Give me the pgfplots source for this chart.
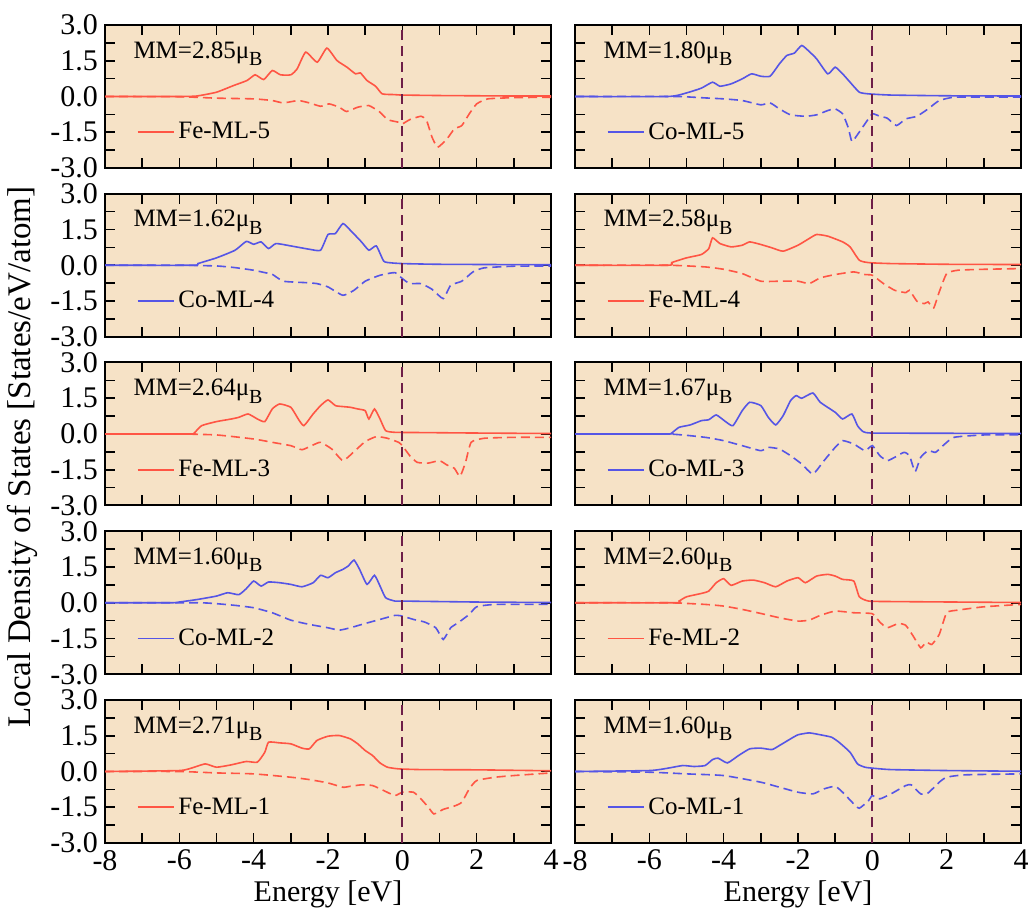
\documentclass[border=0pt]{standalone}
\usepackage{fontspec}
\setmainfont{Liberation Serif}
\usepackage{pgfplots}
\pgfplotsset{compat=1.18}
\definecolor{wheatbg}{HTML}{F6E2C6}
\definecolor{fered}{HTML}{FF5544}
\definecolor{coblue}{HTML}{5555E6}
\definecolor{fermi}{HTML}{6E1E48}
\newcommand\annfont{\fontsize{12.5}{14}\selectfont}
\newcommand\tickfont{\fontsize{15}{16}\selectfont}
% magnetic moment note in the upper left corner of a panel
\newcommand\mm[1]{\node[anchor=west,inner sep=0pt,font=\annfont] at (rel axis cs:0.063,0.80) {MM=#1μ\raisebox{-0.65ex}{\fontsize{10}{10}\selectfont B}};}

\pgfplotsset{
  panel/.style={
    width=223pt, height=71.5pt, scale only axis, anchor=north west,
    xmin=-8, xmax=4, ymin=-3, ymax=3,
    xtick={-8,-6,...,4}, minor xtick={-7,-5,...,3},
    ytick={-3,-1.5,0,1.5,3}, minor ytick={-2.25,-0.75,0.75,2.25},
    tick align=inside, major tick length=5pt, minor tick length=5pt,
    tick style={black, line width=0.8pt},
    axis line style={line width=1pt},
    axis background/.style={fill=wheatbg},
    ticklabel style={font=\tickfont},
    /pgf/number format/assume math mode=true,
    yticklabel style={/pgf/number format/.cd, fixed, fixed zerofill, precision=1},
    xticklabel style={/pgf/number format/.cd, fixed, precision=0},
    legend style={at={(rel axis cs:0.07,0.25)}, anchor=west, draw=none, fill=none,
      font=\annfont, inner sep=0pt},
    legend image code/.code={\draw[##1, line width=0.9pt] (0pt,0pt) -- (18pt,0pt);},
  },
  noy/.style={yticklabels={}},
  nox/.style={xticklabels={}},
  bottom/.style={xlabel={Energy [eV]}, xlabel style={font=\fontsize{15}{16}\selectfont, yshift=1.5pt}},
  up/.style={line width=0.8pt, smooth, tension=0.3},
  dn/.style={line width=0.8pt, smooth, tension=0.3, dash pattern=on 4.5pt off 2.5pt},
  ef/.style={fermi, line width=1pt, dash pattern=on 5pt off 3pt, forget plot},
}

\begin{document}
\begin{tikzpicture}
\useasboundingbox (0,0) rectangle (514pt,454.5pt);

% ---------- left column ----------
\begin{axis}[panel, nox, at={(52.5pt,442pt)}]
\addplot[up, fered] coordinates {(-8,0) (-6,0) (-5.53,0.02) (-5,0.18) (-4.54,0.46) (-4.18,0.67) (-3.96,0.91) (-3.73,0.71) (-3.5,1.09) (-3.28,0.91) (-3,0.91) (-2.83,1.16) (-2.6,1.86) (-2.29,1.44) (-2.03,2.03) (-1.76,1.51) (-1.49,1.23) (-1.26,0.95) (-1.13,0.99) (-0.95,0.67) (-0.72,0.43) (-0.54,0.11) (-0.22,0.08) (0,0.06) (1,0.04) (2,0.03) (3,0.02) (4,0.02)};
\addlegendentry{Fe-ML-5}
\addplot[dn, fered, forget plot] coordinates {(-8,0) (-6,-0.01) (-5,-0.07) (-4,-0.1) (-3.5,-0.17) (-3.2,-0.27) (-2.8,-0.17) (-2.5,-0.27) (-2.2,-0.41) (-1.97,-0.31) (-1.7,-0.45) (-1.5,-0.63) (-1.2,-0.45) (-0.9,-0.38) (-0.6,-0.66) (-0.4,-0.97) (-0.1,-1.08) (0,-1.15) (0.2,-0.97) (0.5,-0.83) (0.65,-1.0) (0.8,-1.71) (0.95,-2.13) (1.2,-1.78) (1.4,-1.36) (1.6,-1.22) (1.8,-0.73) (2.0,-0.31) (2.3,-0.1) (3,-0.05) (4,-0.03)};
\addplot[ef] coordinates {(0,-3) (0,3)};
\mm{2.85}
\end{axis}

\begin{axis}[panel, nox, at={(52.5pt,357.625pt)}]
\addplot[up, coblue] coordinates {(-8,0) (-5.62,0) (-5.5,0.07) (-5,0.31) (-4.5,0.63) (-4.2,1.0) (-4.0,0.88) (-3.8,0.98) (-3.6,0.7) (-3.4,0.91) (-3,0.81) (-2.5,0.67) (-2.2,0.63) (-2.0,1.29) (-1.8,1.33) (-1.6,1.75) (-1.4,1.47) (-1.1,0.98) (-0.9,0.63) (-0.7,0.81) (-0.5,0.17) (-0.3,0.1) (0,0.07) (1,0.04) (4,0.02)};
\addlegendentry{Co-ML-4}
\addplot[dn, coblue, forget plot] coordinates {(-8,0) (-6,0) (-5,-0.03) (-4.5,-0.1) (-4,-0.21) (-3.7,-0.31) (-3.5,-0.38) (-3.2,-0.67) (-2.6,-0.73) (-2.3,-0.77) (-2.0,-0.91) (-1.6,-1.26) (-1.3,-1.05) (-1.0,-0.67) (-0.6,-0.42) (-0.2,-0.31) (0,-0.56) (0.2,-0.77) (0.5,-0.77) (0.8,-1.01) (1.1,-1.4) (1.3,-0.84) (1.6,-0.67) (1.9,-0.28) (2.2,-0.11) (3,-0.04) (4,-0.03)};
\addplot[ef] coordinates {(0,-3) (0,3)};
\mm{1.62}
\end{axis}

\begin{axis}[panel, nox, at={(52.5pt,273.25pt)}]
\addplot[up, fered] coordinates {(-8,0) (-5.7,0) (-5.6,0.04) (-5.4,0.35) (-5,0.52) (-4.6,0.63) (-4.4,0.7) (-4.15,0.84) (-3.9,0.63) (-3.7,0.52) (-3.5,1.05) (-3.3,1.26) (-3,1.12) (-2.8,0.63) (-2.65,0.35) (-2.4,0.84) (-2.2,1.19) (-2,1.43) (-1.8,1.19) (-1.6,1.15) (-1.4,1.12) (-1.2,1.05) (-1.0,0.98) (-0.9,0.63) (-0.75,1.05) (-0.6,0.63) (-0.45,0.14) (-0.2,0.07) (0.5,0.06) (2,0.04) (4,0.02)};
\addlegendentry{Fe-ML-3}
\addplot[dn, fered, forget plot] coordinates {(-8,0) (-6,0) (-5,-0.04) (-4,-0.21) (-3.5,-0.35) (-3,-0.49) (-2.7,-0.66) (-2.4,-0.46) (-2.2,-0.35) (-1.9,-0.63) (-1.6,-1.12) (-1.3,-0.74) (-1.0,-0.32) (-0.7,-0.11) (-0.4,-0.18) (-0.1,-0.35) (0,-0.49) (0.2,-0.91) (0.4,-1.19) (0.7,-1.22) (1.0,-1.12) (1.2,-1.3) (1.4,-1.44) (1.55,-1.78) (1.7,-1.19) (1.85,-0.35) (2.2,-0.18) (3,-0.14) (4,-0.14)};
\addplot[ef] coordinates {(0,-3) (0,3)};
\mm{2.64}
\end{axis}

\begin{axis}[panel, nox, at={(52.5pt,188.875pt)}]
\addplot[up, coblue] coordinates {(-8,0) (-6.2,0) (-6,0.03) (-5.5,0.14) (-5,0.28) (-4.7,0.42) (-4.4,0.34) (-4.2,0.59) (-4,0.91) (-3.8,0.7) (-3.6,0.87) (-3.3,0.84) (-3,0.77) (-2.7,0.67) (-2.4,0.84) (-2.2,1.15) (-2,1.05) (-1.8,1.26) (-1.6,1.4) (-1.45,1.55) (-1.3,1.79) (-1.15,1.4) (-0.95,0.77) (-0.75,1.15) (-0.6,0.7) (-0.45,0.21) (-0.2,0.07) (0,0.07) (2,0.03) (4,0.01)};
\addlegendentry{Co-ML-2}
\addplot[dn, coblue, forget plot] coordinates {(-8,0) (-5.5,0) (-5,-0.04) (-4.5,-0.11) (-4,-0.21) (-3.5,-0.42) (-3,-0.73) (-2.5,-0.91) (-2,-1.05) (-1.7,-1.15) (-1.4,-1.05) (-1,-0.87) (-0.6,-0.7) (-0.2,-0.53) (0,-0.56) (0.3,-0.7) (0.6,-0.81) (0.9,-1.05) (1.1,-1.54) (1.3,-1.05) (1.5,-0.84) (1.8,-0.49) (2.0,-0.17) (2.5,-0.07) (4,-0.07)};
\addplot[ef] coordinates {(0,-3) (0,3)};
\mm{1.60}
\end{axis}

\begin{axis}[panel, bottom, at={(52.5pt,104.5pt)}]
\addplot[up, fered] coordinates {(-8,0) (-6,0.04) (-5.6,0.18) (-5.3,0.32) (-5,0.18) (-4.6,0.28) (-4.2,0.42) (-3.9,0.39) (-3.7,0.81) (-3.6,1.23) (-3.3,1.2) (-3,1.16) (-2.7,0.98) (-2.5,0.95) (-2.3,1.3) (-2,1.48) (-1.7,1.51) (-1.4,1.37) (-1.2,1.16) (-1,0.88) (-0.8,0.67) (-0.6,0.36) (-0.4,0.18) (-0.1,0.11) (0.5,0.08) (2,0.07) (3,0.05) (4,0.03)};
\addlegendentry{Fe-ML-1}
\addplot[dn, fered, forget plot] coordinates {(-8,0) (-6,0) (-5,-0.06) (-4,-0.1) (-3,-0.24) (-2.5,-0.34) (-2,-0.48) (-1.6,-0.66) (-1.4,-0.62) (-1.1,-0.56) (-0.8,-0.59) (-0.5,-0.8) (-0.2,-1.01) (0,-0.87) (0.3,-0.87) (0.5,-1.15) (0.7,-1.5) (0.85,-1.78) (1.1,-1.59) (1.4,-1.45) (1.6,-1.29) (1.8,-0.73) (2,-0.38) (2.5,-0.24) (3,-0.17) (4,-0.06)};
\addplot[ef] coordinates {(0,-3) (0,3)};
\mm{2.71}
\end{axis}

% ---------- right column ----------
\begin{axis}[panel, nox, noy, at={(287.5pt,442pt)}]
\addplot[up, coblue] coordinates {(-8,0) (-5.5,0) (-5,0.15) (-4.6,0.35) (-4.3,0.6) (-4.1,0.43) (-3.8,0.53) (-3.5,0.74) (-3.25,0.95) (-3,0.85) (-2.75,0.85) (-2.5,1.37) (-2.3,1.72) (-2.1,1.82) (-1.9,2.14) (-1.7,1.89) (-1.5,1.58) (-1.2,0.95) (-1.0,1.23) (-0.8,0.95) (-0.6,0.6) (-0.35,0.18) (-0.1,0.11) (0.5,0.06) (2,0.03) (4,0.02)};
\addlegendentry{Co-ML-5}
\addplot[dn, coblue, forget plot] coordinates {(-8,0) (-5.3,0) (-4.5,-0.06) (-4,-0.1) (-3.5,-0.17) (-3,-0.35) (-2.75,-0.27) (-2.5,-0.52) (-2.2,-0.77) (-1.8,-0.83) (-1.5,-0.77) (-1.2,-0.59) (-1.0,-0.52) (-0.8,-0.73) (-0.65,-1.3) (-0.55,-1.89) (-0.4,-1.6) (-0.2,-1.15) (0,-0.73) (0.2,-0.83) (0.4,-0.91) (0.65,-1.22) (0.9,-0.94) (1.2,-0.83) (1.5,-0.52) (1.8,-0.17) (2.2,-0.03) (3,-0.02) (4,-0.02)};
\addplot[ef] coordinates {(0,-3) (0,3)};
\mm{1.80}
\end{axis}

\begin{axis}[panel, nox, noy, at={(287.5pt,357.625pt)}]
\addplot[up, fered] coordinates {(-8,0) (-5.5,0) (-5.4,0.11) (-5,0.31) (-4.6,0.45) (-4.4,0.7) (-4.3,1.15) (-4.1,0.91) (-3.8,0.77) (-3.5,0.84) (-3.3,0.98) (-3,0.87) (-2.7,0.73) (-2.4,0.59) (-2,0.84) (-1.7,1.12) (-1.5,1.29) (-1.2,1.22) (-0.8,0.98) (-0.6,0.77) (-0.35,0.21) (-0.1,0.11) (0.5,0.07) (2,0.04) (4,0.03)};
\addlegendentry{Fe-ML-4}
\addplot[dn, fered, forget plot] coordinates {(-8,0) (-5.5,0) (-4.5,-0.07) (-4,-0.17) (-3.5,-0.35) (-3,-0.67) (-2.5,-0.67) (-2,-0.67) (-1.7,-0.77) (-1.4,-0.53) (-1,-0.39) (-0.5,-0.28) (-0.2,-0.39) (0,-0.42) (0.3,-0.77) (0.6,-1.05) (0.9,-1.15) (1.0,-1.05) (1.2,-1.51) (1.4,-1.61) (1.5,-1.54) (1.65,-1.79) (1.8,-1.12) (2.0,-0.35) (2.3,-0.21) (3,-0.17) (4,-0.14)};
\addplot[ef] coordinates {(0,-3) (0,3)};
\mm{2.58}
\end{axis}

\begin{axis}[panel, nox, noy, at={(287.5pt,273.25pt)}]
\addplot[up, coblue] coordinates {(-8,0) (-5.5,0) (-5.4,0.04) (-5.2,0.28) (-4.9,0.38) (-4.6,0.56) (-4.4,0.6) (-4.2,0.8) (-3.95,0.52) (-3.75,0.35) (-3.5,0.98) (-3.3,1.33) (-3,1.19) (-2.8,0.7) (-2.6,0.38) (-2.4,0.77) (-2.2,1.4) (-2.05,1.61) (-1.9,1.5) (-1.6,1.72) (-1.4,1.33) (-1.0,0.91) (-0.8,0.63) (-0.55,0.84) (-0.4,0.35) (-0.25,0.1) (0,0.04) (2,0.03) (4,0.02)};
\addlegendentry{Co-ML-3}
\addplot[dn, coblue, forget plot] coordinates {(-8,0) (-5.5,0) (-4.5,-0.14) (-4,-0.28) (-3.5,-0.49) (-3,-0.7) (-2.8,-0.56) (-2.5,-0.63) (-2.2,-0.91) (-1.9,-1.26) (-1.6,-1.68) (-1.3,-1.12) (-1,-0.56) (-0.8,-0.28) (-0.5,-0.42) (-0.2,-0.7) (0,-0.49) (0.2,-0.91) (0.4,-1.12) (0.6,-0.98) (0.85,-0.77) (1.0,-0.91) (1.15,-1.58) (1.3,-0.98) (1.5,-0.7) (1.7,-0.77) (1.9,-0.49) (2.2,-0.14) (3,-0.04) (4,-0.04)};
\addplot[ef] coordinates {(0,-3) (0,3)};
\mm{1.67}
\end{axis}

\begin{axis}[panel, nox, noy, at={(287.5pt,188.875pt)}]
\addplot[up, fered] coordinates {(-8,0) (-5.3,0) (-5.2,0.07) (-5,0.25) (-4.6,0.39) (-4.4,0.49) (-4.2,0.84) (-4,1.01) (-3.8,0.73) (-3.5,0.91) (-3.2,0.95) (-2.9,0.84) (-2.6,0.67) (-2.3,0.91) (-2,1.05) (-1.8,0.84) (-1.5,1.12) (-1.2,1.19) (-1,1.12) (-0.8,0.98) (-0.5,0.91) (-0.35,0.25) (-0.1,0.07) (0.5,0.05) (4,0.01)};
\addlegendentry{Fe-ML-2}
\addplot[dn, fered, forget plot] coordinates {(-8,0) (-5.5,0) (-4.5,-0.07) (-4,-0.14) (-3.5,-0.28) (-3,-0.45) (-2.5,-0.63) (-2,-0.77) (-1.7,-0.73) (-1.4,-0.53) (-1,-0.35) (-0.5,-0.42) (0,-0.46) (0.2,-0.81) (0.4,-1.05) (0.7,-0.87) (0.9,-0.95) (1.1,-1.4) (1.3,-1.89) (1.45,-1.65) (1.6,-1.75) (1.8,-1.33) (2,-0.42) (2.3,-0.31) (3,-0.17) (4,-0.07)};
\addplot[ef] coordinates {(0,-3) (0,3)};
\mm{2.60}
\end{axis}

\begin{axis}[panel, noy, bottom, at={(287.5pt,104.5pt)}]
\addplot[up, coblue] coordinates {(-8,0) (-6,0.04) (-5.5,0.14) (-5.1,0.25) (-4.8,0.21) (-4.5,0.25) (-4.3,0.5) (-4.15,0.56) (-3.9,0.36) (-3.6,0.67) (-3.3,0.95) (-3,0.98) (-2.7,0.92) (-2.5,1.09) (-2.2,1.37) (-2,1.54) (-1.7,1.62) (-1.4,1.54) (-1.1,1.44) (-0.9,1.23) (-0.6,0.81) (-0.4,0.32) (-0.2,0.18) (0,0.14) (0.5,0.08) (2,0.04) (4,0.01)};
\addlegendentry{Co-ML-1}
\addplot[dn, coblue, forget plot] coordinates {(-8,0) (-6,-0.03) (-5,-0.1) (-4,-0.17) (-3,-0.45) (-2.5,-0.66) (-2,-0.87) (-1.6,-0.94) (-1.3,-0.73) (-1,-0.62) (-0.8,-0.87) (-0.5,-1.36) (-0.35,-1.54) (-0.1,-1.22) (0,-1.01) (0.2,-1.15) (0.5,-0.94) (0.9,-0.59) (1.05,-0.56) (1.3,-0.94) (1.5,-0.9) (1.8,-0.45) (2,-0.24) (2.5,-0.14) (4,-0.1)};
\addplot[ef] coordinates {(0,-3) (0,3)};
\mm{1.60}
\end{axis}

\node[rotate=90, font=\fontsize{16.5}{18}\selectfont] at (11pt,226pt) {Local Density of States [States/eV/atom]};
\end{tikzpicture}
\end{document}
